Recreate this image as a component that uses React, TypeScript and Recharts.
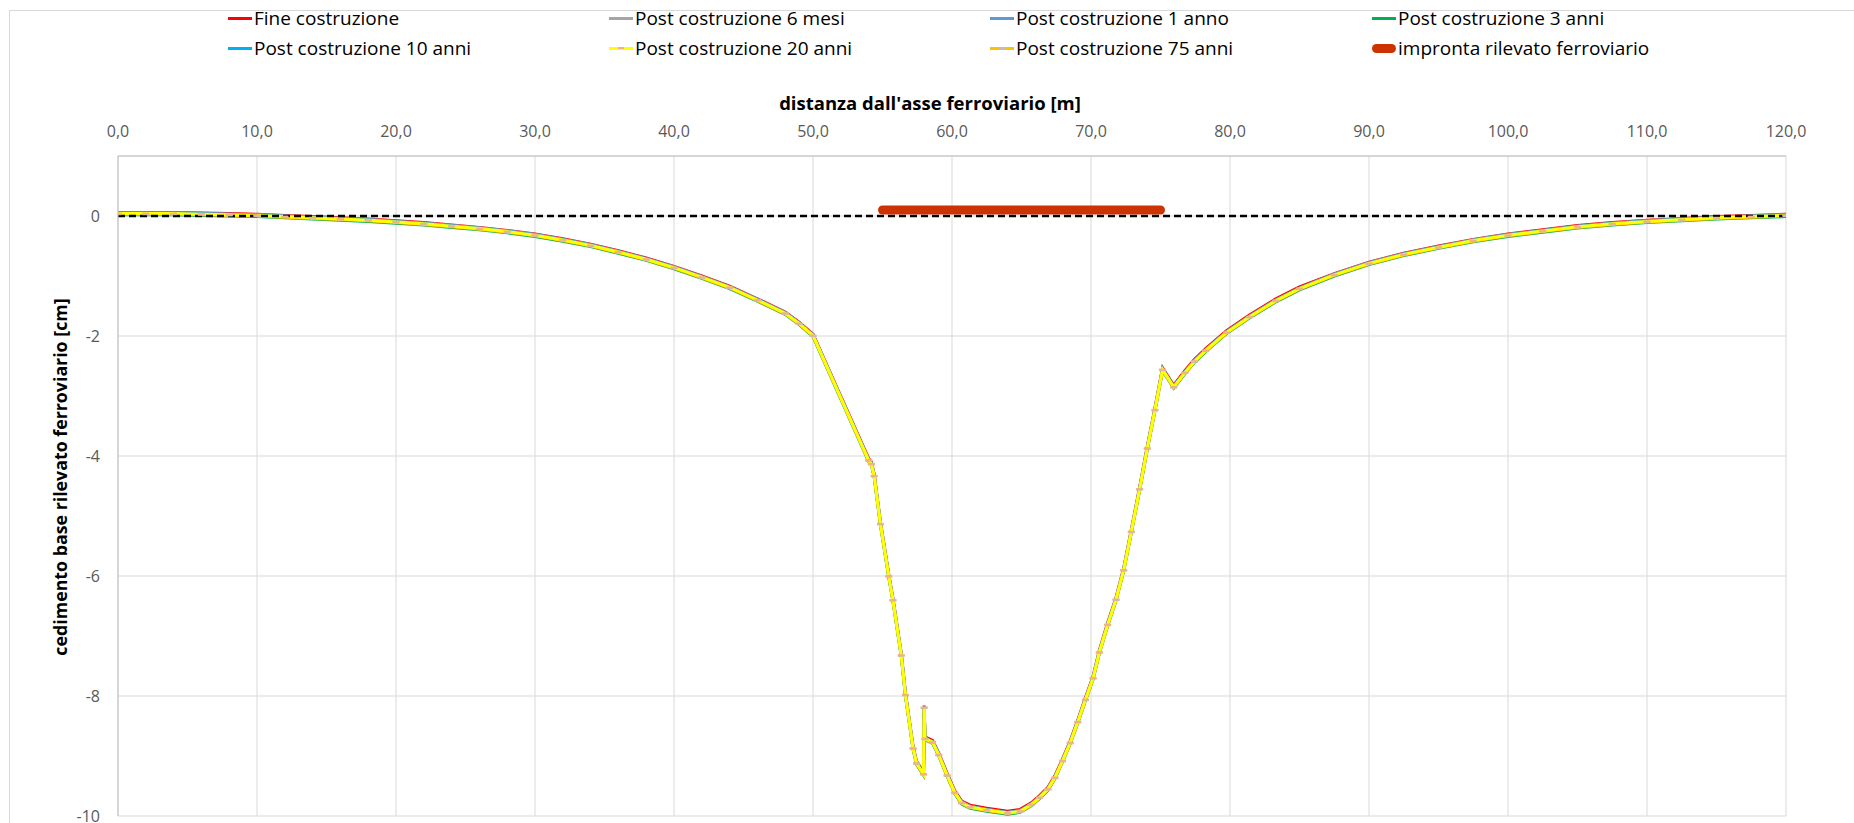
import { LineChart, Line, XAxis, YAxis, CartesianGrid, ReferenceLine } from 'recharts'

// distanze dall'asse [m]
const distanze = [
  0, 2, 4, 6, 8, 10, 12, 14, 16, 18, 20, 22, 24, 26, 28, 30, 32, 34, 36, 38,
  40, 42, 44, 46, 48, 49, 50, 54, 54.2, 54.4, 54.85, 55.45, 55.75, 56.35, 56.65, 57.2, 57.45,
  57.95, 58, 58.05, 58.6, 59.05, 59.65, 60.2, 60.7, 61.3, 62.5, 64, 64.9, 65.7, 66.3, 66.9,
  67.4, 67.95, 68.5, 69.05, 69.6, 70.15, 70.6, 71.2, 71.8, 72.35, 72.9, 73.5, 74.05, 74.6,
  75.15, 75.95, 76.75, 77.45, 78.25, 79.75, 81.4, 83.3, 85, 87.5, 90, 92.5, 95, 97.5, 100,
  102.5, 105, 107.5, 110, 112.5, 115, 117.5, 120,
]

// cedimenti [cm]
const fineCostruzione = [
  0.06, 0.06, 0.06, 0.05, 0.04, 0.03, 0.01, -0.01, -0.03, -0.05, -0.08, -0.11, -0.15, -0.19, -0.24, -0.30, -0.38, -0.47, -0.58, -0.70,
  -0.84, -1.00, -1.17, -1.38, -1.60, -1.77, -1.97, -4.04, -4.10, -4.30, -5.10, -5.97, -6.37, -7.29, -7.95, -8.84, -9.09,
  -9.27, -8.16, -8.68, -8.74, -8.95, -9.29, -9.58, -9.75, -9.82, -9.87, -9.92, -9.89, -9.78, -9.66, -9.52,
  -9.33, -9.05, -8.75, -8.40, -8.03, -7.67, -7.24, -6.78, -6.36, -5.87, -5.23, -4.52, -3.84, -3.20,
  -2.53, -2.82, -2.58, -2.39, -2.21, -1.91, -1.65, -1.38, -1.18, -0.96, -0.77, -0.62, -0.50, -0.39, -0.30,
  -0.23, -0.16, -0.11, -0.07, -0.04, -0.01, 0.01, 0.03,
]
const post6mesi = [
  0.05, 0.05, 0.05, 0.04, 0.03, 0.02, 0.00, -0.02, -0.04, -0.06, -0.09, -0.12, -0.16, -0.20, -0.25, -0.31, -0.39, -0.48, -0.59, -0.71,
  -0.85, -1.01, -1.18, -1.39, -1.61, -1.78, -1.98, -4.06, -4.12, -4.32, -5.12, -5.99, -6.39, -7.31, -7.97, -8.86, -9.11,
  -9.29, -8.18, -8.70, -8.76, -8.97, -9.31, -9.60, -9.77, -9.84, -9.89, -9.94, -9.91, -9.80, -9.68, -9.54,
  -9.35, -9.07, -8.77, -8.42, -8.05, -7.69, -7.26, -6.80, -6.38, -5.89, -5.25, -4.54, -3.86, -3.22,
  -2.55, -2.84, -2.60, -2.41, -2.23, -1.93, -1.67, -1.40, -1.20, -0.97, -0.78, -0.63, -0.51, -0.40, -0.31,
  -0.24, -0.17, -0.12, -0.08, -0.05, -0.02, 0.00, 0.02,
]
const post1anno = [
  0.05, 0.05, 0.05, 0.04, 0.03, 0.02, 0.00, -0.02, -0.04, -0.06, -0.09, -0.12, -0.16, -0.20, -0.25, -0.31, -0.39, -0.48, -0.59, -0.71,
  -0.85, -1.01, -1.18, -1.39, -1.61, -1.78, -1.98, -4.06, -4.12, -4.32, -5.12, -5.99, -6.39, -7.31, -7.97, -8.86, -9.11,
  -9.29, -8.18, -8.70, -8.76, -8.97, -9.31, -9.60, -9.77, -9.84, -9.89, -9.94, -9.91, -9.80, -9.68, -9.54,
  -9.35, -9.07, -8.77, -8.42, -8.05, -7.69, -7.26, -6.80, -6.38, -5.89, -5.25, -4.54, -3.86, -3.22,
  -2.55, -2.84, -2.60, -2.41, -2.23, -1.93, -1.67, -1.40, -1.20, -0.97, -0.78, -0.63, -0.51, -0.40, -0.31,
  -0.24, -0.17, -0.12, -0.08, -0.05, -0.02, 0.00, 0.02,
]
const post3anni = [
  0.02, 0.02, 0.02, 0.01, 0.00, -0.01, -0.03, -0.05, -0.07, -0.09, -0.12, -0.15, -0.19, -0.23, -0.28, -0.34, -0.42, -0.51, -0.62, -0.74,
  -0.88, -1.04, -1.21, -1.42, -1.64, -1.81, -2.01, -4.09, -4.15, -4.35, -5.15, -6.02, -6.42, -7.34, -8.00, -8.89, -9.14,
  -9.32, -8.21, -8.73, -8.79, -9.00, -9.34, -9.63, -9.80, -9.87, -9.92, -9.97, -9.94, -9.83, -9.71, -9.57,
  -9.38, -9.10, -8.80, -8.45, -8.08, -7.72, -7.29, -6.83, -6.41, -5.92, -5.28, -4.57, -3.89, -3.25,
  -2.58, -2.87, -2.63, -2.44, -2.26, -1.96, -1.70, -1.43, -1.23, -1.00, -0.81, -0.66, -0.54, -0.43, -0.34,
  -0.27, -0.20, -0.15, -0.11, -0.08, -0.05, -0.03, -0.01,
]
const post10anni = [
  0.04, 0.04, 0.04, 0.03, 0.02, 0.01, -0.01, -0.03, -0.05, -0.07, -0.10, -0.13, -0.17, -0.21, -0.26, -0.32, -0.40, -0.49, -0.60, -0.72,
  -0.86, -1.02, -1.19, -1.40, -1.62, -1.79, -1.99, -4.07, -4.13, -4.33, -5.13, -6.00, -6.40, -7.32, -7.98, -8.87, -9.12,
  -9.30, -8.19, -8.71, -8.77, -8.98, -9.32, -9.61, -9.78, -9.85, -9.90, -9.95, -9.92, -9.81, -9.69, -9.55,
  -9.36, -9.08, -8.78, -8.43, -8.06, -7.70, -7.27, -6.81, -6.39, -5.90, -5.26, -4.55, -3.87, -3.23,
  -2.56, -2.85, -2.61, -2.42, -2.24, -1.94, -1.68, -1.41, -1.21, -0.98, -0.79, -0.64, -0.52, -0.41, -0.32,
  -0.25, -0.18, -0.13, -0.09, -0.06, -0.03, -0.01, 0.01,
]
const post20anni = [
  0.04, 0.04, 0.04, 0.03, 0.02, 0.01, -0.01, -0.03, -0.05, -0.07, -0.10, -0.13, -0.17, -0.21, -0.26, -0.32, -0.40, -0.49, -0.60, -0.72,
  -0.86, -1.02, -1.19, -1.40, -1.62, -1.79, -1.99, -4.07, -4.13, -4.33, -5.13, -6.00, -6.40, -7.32, -7.98, -8.87, -9.12,
  -9.30, -8.19, -8.71, -8.77, -8.98, -9.32, -9.61, -9.78, -9.85, -9.90, -9.95, -9.92, -9.81, -9.69, -9.55,
  -9.36, -9.08, -8.78, -8.43, -8.06, -7.70, -7.27, -6.81, -6.39, -5.90, -5.26, -4.55, -3.87, -3.23,
  -2.56, -2.85, -2.61, -2.42, -2.24, -1.94, -1.68, -1.41, -1.21, -0.98, -0.79, -0.64, -0.52, -0.41, -0.32,
  -0.25, -0.18, -0.13, -0.09, -0.06, -0.03, -0.01, 0.01,
]
const post75anni = [
  0.03, 0.03, 0.03, 0.02, 0.01, 0.00, -0.02, -0.04, -0.06, -0.08, -0.11, -0.14, -0.18, -0.22, -0.27, -0.33, -0.41, -0.50, -0.61, -0.73,
  -0.87, -1.03, -1.20, -1.41, -1.63, -1.80, -2.00, -4.08, -4.14, -4.34, -5.14, -6.01, -6.41, -7.33, -7.99, -8.88, -9.13,
  -9.31, -8.20, -8.72, -8.78, -8.99, -9.33, -9.62, -9.79, -9.86, -9.91, -9.96, -9.93, -9.82, -9.70, -9.56,
  -9.37, -9.09, -8.79, -8.44, -8.07, -7.71, -7.28, -6.82, -6.40, -5.91, -5.27, -4.56, -3.88, -3.24,
  -2.57, -2.86, -2.62, -2.43, -2.25, -1.95, -1.69, -1.42, -1.22, -0.99, -0.80, -0.65, -0.53, -0.42, -0.33,
  -0.26, -0.19, -0.14, -0.10, -0.07, -0.04, -0.02, 0.00,
]

// impronta del rilevato
const improntaX = [55, 75]
const improntaY = [0.1, 0.1]

const xTicks = [0, 10, 20, 30, 40, 50, 60, 70, 80, 90, 100, 110, 120]
const yTicks = [0, -2, -4, -6, -8, -10]

const serie = [
  { key: 'fine', nome: 'Fine costruzione', colore: '#FF0000', valori: fineCostruzione },
  { key: 'm6', nome: 'Post costruzione 6 mesi', colore: '#A5A5A5', valori: post6mesi },
  { key: 'a1', nome: 'Post costruzione 1 anno', colore: '#5B9BD5', valori: post1anno },
  { key: 'a3', nome: 'Post costruzione 3 anni', colore: '#00B050', valori: post3anni },
  { key: 'a10', nome: 'Post costruzione 10 anni', colore: '#00B0F0', valori: post10anni },
  { key: 'a20', nome: 'Post costruzione 20 anni', colore: '#FFFF00', valori: post20anni, marker: '#F4B183' },
  { key: 'a75', nome: 'Post costruzione 75 anni', colore: '#FFC000', valori: post75anni, marker: '#BFBFBF' },
]

const righe = distanze.map((x, i) => {
  const r: Record<string, number> = { x }
  serie.forEach(s => { r[s.key] = s.valori[i] })
  return r
})
const impronta = improntaX.map((x, i) => ({ x, y: improntaY[i] }))

// draw order: yellow last so it sits on top like in the original
const ordine = ['fine', 'm6', 'a1', 'a3', 'a10', 'a75', 'a20']

const W = 1854
const H = 823
const PLOT = { left: 118, right: 1786, top: 156, bottom: 816 }
const FONT = "'Open Sans', 'Noto Sans', sans-serif"

const legendCols = [228, 609, 990, 1372]
const legendRows = [18, 48]

function Marker(color: string) {
  return (p: any) => {
    if (p.cx == null || p.cy == null) return <g key={p.index} />
    return <rect key={p.index} x={p.cx - 3.5} y={p.cy - 1} width={7} height={2} fill={color} />
  }
}

function LegendItem({ x, y, nome, colore, marker, spesso }: any) {
  return (
    <div style={{ position: 'absolute', left: x, top: y - 13, height: 26, display: 'flex', alignItems: 'center', whiteSpace: 'nowrap' }}>
      <div style={{ position: 'relative', width: 24, height: 26, marginRight: 2 }}>
        <div style={{
          position: 'absolute', left: 0, top: spesso ? 9 : 11.5, width: 24, height: spesso ? 9 : 3,
          background: colore, borderRadius: spesso ? 5 : 0,
        }} />
        {marker && <div style={{ position: 'absolute', left: 9, top: 12, width: 6, height: 2, background: marker }} />}
      </div>
      <span style={{ fontSize: 19, color: '#000' }}>{nome}</span>
    </div>
  )
}

export default function App() {
  const legend = [
    ...serie.map(s => ({ nome: s.nome, colore: s.colore, marker: s.marker, spesso: false })),
    { nome: 'impronta rilevato ferroviario', colore: '#CC3300', marker: undefined, spesso: true },
  ]

  return (
    <div style={{ position: 'absolute', left: 0, top: 0, width: W, height: H, background: '#fff', fontFamily: FONT, overflow: 'hidden' }}>
      <div style={{ position: 'absolute', left: 9, top: 10, width: 1850, height: 830, border: '1px solid #d9d9d9' }} />

      {legend.map((l, i) => (
        <LegendItem key={l.nome} x={legendCols[i % 4]} y={legendRows[Math.floor(i / 4)]} {...l} />
      ))}

      <div style={{ position: 'absolute', left: 930, top: 102, transform: 'translate(-50%, -50%)', fontSize: 18.5, fontWeight: 700, whiteSpace: 'nowrap' }}>
        distanza dall'asse ferroviario [m]
      </div>
      <div style={{ position: 'absolute', left: 60, top: 477, transform: 'translate(-50%, -50%) rotate(-90deg)', fontSize: 17.8, fontWeight: 700, whiteSpace: 'nowrap' }}>
        cedimento base rilevato ferroviario [cm]
      </div>

      <div style={{ position: 'absolute', left: 0, top: 0 }}>
        <LineChart
          width={W}
          height={H}
          data={righe}
          margin={{ top: PLOT.top - 30, right: W - PLOT.right, bottom: H - PLOT.bottom, left: PLOT.left - 60 }}
        >
          <CartesianGrid stroke="#d9d9d9" strokeWidth={1} />
          <XAxis
            type="number"
            dataKey="x"
            orientation="top"
            domain={[0, 120]}
            ticks={xTicks}
            interval={0}
            height={30}
            tickSize={0}
            tickMargin={19}
            axisLine={{ stroke: '#bfbfbf' }}
            tick={{ fill: '#595959', fontSize: 16, fontFamily: FONT }}
            tickFormatter={(v: number) => v.toFixed(1).replace('.', ',')}
            allowDataOverflow
          />
          <YAxis
            type="number"
            domain={[-10, 1]}
            ticks={yTicks}
            interval={0}
            width={60}
            tickSize={0}
            tickMargin={18}
            axisLine={{ stroke: '#bfbfbf' }}
            tick={{ fill: '#595959', fontSize: 16, fontFamily: FONT }}
            allowDataOverflow
          />
          {ordine.map(k => {
            const s = serie.find(z => z.key === k)!
            return (
              <Line
                key={k}
                dataKey={k}
                name={s.nome}
                type="linear"
                stroke={s.colore}
                strokeWidth={3}
                dot={s.marker ? Marker(s.marker) : false}
                activeDot={false}
                isAnimationActive={false}
              />
            )
          })}
          <ReferenceLine y={0} stroke="#000" strokeWidth={2.5} strokeDasharray="7 4" />
          <Line
            data={impronta}
            dataKey="y"
            name="impronta rilevato ferroviario"
            stroke="#CC3300"
            strokeWidth={9}
            strokeLinecap="round"
            dot={false}
            activeDot={false}
            isAnimationActive={false}
          />
        </LineChart>
      </div>
    </div>
  )
}
